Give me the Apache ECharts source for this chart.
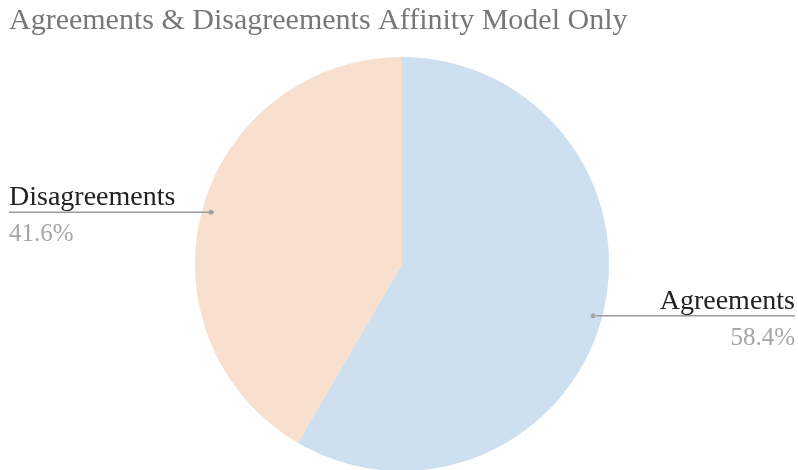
<!DOCTYPE html>
<html>
<head>
<meta charset="utf-8">
<script src="https://cdn.jsdelivr.net/npm/echarts@6/dist/echarts.min.js"></script>
<style>
  html, body { margin: 0; padding: 0; background: #fff; }
  #chart { width: 798px; height: 470px; }
</style>
</head>
<body>
<div id="chart"></div>
<script>
// Share of agreements vs disagreements for the affinity model
const categories = ['Agreements', 'Disagreements'];
const shares = [58.4, 41.6];
const sliceColors = ['#cee0f0', '#f9e0ce'];

const FONT = '"Liberation Serif", serif';
const CENTER = [402, 264];
const PIE_RADIUS = 207;
const DOT_RADIUS = 198;

const total = shares.reduce((a, b) => a + b, 0);
const pieData = categories.map((name, i) => ({
  name: name,
  value: shares[i],
  itemStyle: { color: sliceColors[i] }
}));

// Midpoint of every slice along the angle axis, for the leader-line dots
const dotData = [];
let acc = 0;
shares.forEach((v) => {
  dotData.push([DOT_RADIUS, acc + v / 2]);
  acc += v;
});

const chart = echarts.init(document.getElementById('chart'), null, { renderer: 'canvas' });

chart.setOption({
  animation: false,
  title: {
    text: 'Agreements & Disagreements Affinity Model Only',
    left: 4,
    top: 1,
    textStyle: { fontFamily: FONT, fontSize: 30, fontWeight: 'normal', color: '#777777' }
  },
  polar: { center: CENTER, radius: PIE_RADIUS },
  angleAxis: { type: 'value', min: 0, max: total, startAngle: 90, clockwise: true, show: false },
  radiusAxis: { type: 'value', min: 0, max: PIE_RADIUS, show: false },
  series: [
    {
      type: 'pie',
      center: CENTER,
      radius: PIE_RADIUS,
      startAngle: 90,
      clockwise: true,
      silent: true,
      label: { show: false },
      labelLine: { show: false },
      data: pieData,
      z: 1
    },
    {
      type: 'pie',
      center: CENTER,
      radius: DOT_RADIUS,
      startAngle: 90,
      clockwise: true,
      silent: true,
      left: 3,
      width: 798,
      top: 0,
      bottom: 0,
      itemStyle: { color: 'rgba(0,0,0,0)' },
      data: categories.map((name, i) => ({ name: name, value: shares[i] })),
      label: {
        alignTo: 'edge',
        edgeDistance: 6,
        formatter: '{name|{b}}\n{pct|{d}%}',
        rich: {
          name: { fontFamily: FONT, fontSize: 28, color: '#222222', lineHeight: 45 },
          pct: { fontFamily: FONT, fontSize: 25, color: '#a6a6a6', lineHeight: 29 }
        }
      },
      labelLine: {
        show: true,
        length: 0,
        length2: 10,
        lineStyle: { color: '#999999', width: 1.5 }
      },
      labelLayout: function (params) {
        const isLeft = params.labelRect.x < 399;
        const points = params.labelLinePoints;
        points[2][0] = isLeft ? params.labelRect.x : params.labelRect.x + params.labelRect.width;
        return { labelLinePoints: points };
      },
      z: 2
    },
    {
      type: 'scatter',
      coordinateSystem: 'polar',
      symbol: 'circle',
      symbolSize: 5,
      silent: true,
      itemStyle: { color: '#999999' },
      data: dotData,
      z: 3
    }
  ]
});
</script>
</body>
</html>
